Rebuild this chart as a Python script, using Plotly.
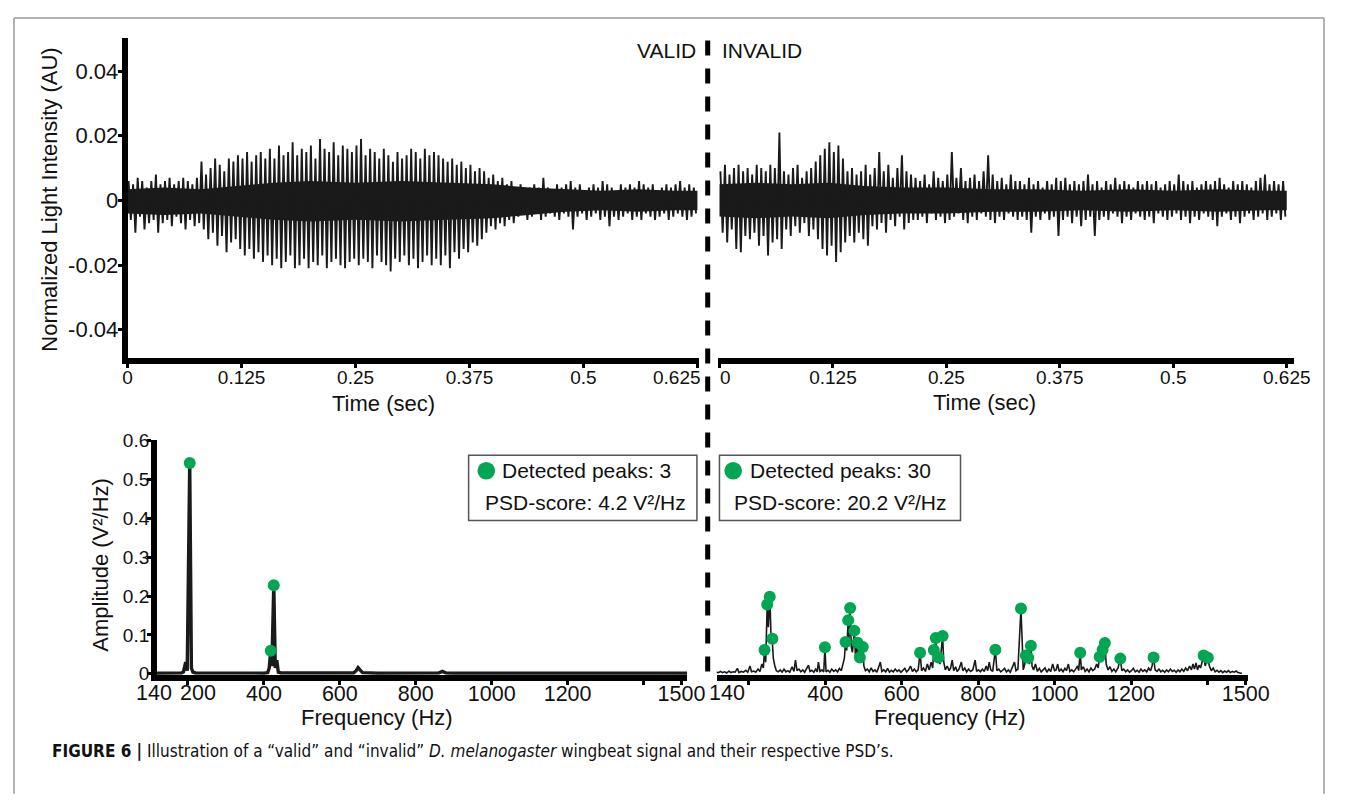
import plotly.graph_objects as go

# ---------------- data ----------------
# Wingbeat time signals: per-cycle spike maxima / minima (units of 0.001 AU)
valid_top = [6, 5, 7, 6, 4, 6, 8, 5, 6, 7, 5, 6, 7, 6, 5, 7,
             12, 8, 10, 13, 11, 9, 13, 12, 14,
             13, 15, 12, 14, 15, 13,
             16, 13, 17, 14, 15, 18, 14, 16, 15, 17, 13, 19, 16, 15, 18, 14, 17, 16, 15,
             17, 19, 14, 16, 15, 13, 16, 14, 12, 15, 13, 14, 16, 15, 13, 16, 14, 15,
             14, 13, 12, 13, 11, 12, 10, 11, 9, 10,
             9, 7, 8, 6, 7, 5, 6,
             4, 5, 3, 4, 5, 4, 7, 4, 3, 5, 4, 5, 6, 4, 5, 3, 4, 5, 4, 6,
             5, 4, 3, 5, 4, 5, 4, 6, 5, 4, 5, 3, 4, 5, 4, 5, 6, 4, 5, 4]
valid_bot = [-6, -10, -5, -9, -7, -6, -10, -7, -6, -8, -5, -7, -9, -6, -8, -7,
             -9, -12, -10, -14, -11, -16, -13, -12, -15,
             -17, -15, -18, -16, -19, -17,
             -20, -18, -21, -19, -17, -21, -20, -18, -21, -19, -20, -17, -21, -19, -18, -20, -21, -19, -18,
             -20, -18, -19, -21, -17, -19, -20, -22, -18, -19, -17, -20, -18, -21, -19, -17, -20, -18,
             -20, -17, -21, -16, -18, -15, -16, -13, -14, -12,
             -10, -8, -9, -7, -8, -6, -7,
             -5, -4, -6, -5, -4, -6, -5, -4, -5, -6, -4, -5, -9, -5, -4, -6, -5, -4, -6, -5,
             -8, -5, -6, -5, -4, -6, -5, -6, -4, -5, -6, -5, -4, -6, -5, -4, -5, -6, -5, -4]
invalid_top = [9, 11, 8, 10, 11, 9, 10, 8, 11, 10, 9, 11,
               10, 21,
               9, 8, 10, 11, 7, 9, 10,
               12, 14, 16, 18, 15, 17, 13,
               9, 10, 8, 9, 11,
               8, 10, 15, 9, 11, 7, 10, 14, 9, 8,
               7, 6, 8, 5, 9, 7, 6, 8, 15, 7, 10, 6, 7, 8, 6, 9, 14, 8, 6, 7, 5, 8, 6,
               6, 5, 7, 5, 6, 4, 6, 5, 7, 6, 7, 5, 6, 5, 6, 8, 5, 6, 4, 6,
               5, 7, 5, 6, 5, 4, 6, 5, 6, 5, 6, 4, 5, 6, 5, 8, 6, 5, 6, 4,
               5, 6, 5, 6, 7, 5, 4, 6, 5, 6, 5, 4, 6, 7, 8, 5, 6, 5, 6]
invalid_bot = [-10, -13, -9, -15, -16, -11, -12, -10, -14, -11, -17, -13,
               -12, -15,
               -9, -11, -8, -10, -7, -11, -9,
               -12, -15, -17, -14, -19, -16, -13,
               -11, -13, -10, -12, -14,
               -8, -9, -7, -10, -6, -8, -5, -9, -7, -6,
               -6, -5, -7, -4, -6, -5, -7, -6, -5, -4, -6, -7, -5, -6, -4, -5, -6, -7, -5, -6, -4, -5, -6,
               -5, -6, -10, -5, -6, -4, -6, -5, -11, -6, -5, -7, -5, -8, -6, -5, -11, -6, -5,
               -6, -4, -5, -7, -5, -6, -4, -5, -6, -5, -7, -4, -5, -6, -5, -4, -6, -5, -7, -5,
               -6, -4, -5, -6, -8, -5, -4, -6, -5, -7, -5, -4, -6, -5, -4, -6, -5, -4, -6, -5]
# dense (solid black) core of each signal: times and upper / lower edges (units of 0.001 AU)
valid_core_t = [0, 0.04, 0.08, 0.12, 0.16, 0.2, 0.25, 0.3, 0.35, 0.4, 0.44, 0.48, 0.52, 0.56, 0.6, 0.625]
valid_core_hi = [3.5, 4.0, 3.5, 4.5, 5.5, 6.0, 5.5, 6.0, 5.5, 5.0, 4.0, 3.5, 3.0, 3.5, 3.0, 3.0]
valid_core_lo = [-4.0, -4.5, -4.0, -5.0, -6.0, -6.5, -6.0, -6.5, -6.0, -5.5, -4.5, -3.5, -3.0, -3.5, -3.0, -3.0]
invalid_core_t = [0, 0.04, 0.08, 0.12, 0.16, 0.2, 0.25, 0.3, 0.35, 0.4, 0.45, 0.5, 0.55, 0.6, 0.625]
invalid_core_hi = [5.0, 5.5, 5.0, 5.5, 4.5, 4.0, 4.0, 3.5, 3.5, 3.0, 3.5, 3.0, 3.5, 3.0, 3.0]
invalid_core_lo = [-5.0, -5.5, -5.0, -5.5, -4.5, -4.0, -4.0, -3.5, -3.5, -3.0, -3.5, -3.0, -3.5, -3.0, -3.0]

# PSD of valid signal (Hz, units of 0.001 V^2/Hz)
valid_freq = [117, 140, 170, 183, 188, 194, 198, 204.6, 209, 213, 220, 260, 300, 350, 400,
              410, 414, 418, 421, 426, 430, 434, 438, 445, 500, 600, 636, 643, 648, 653, 660,
              700, 800, 860, 870, 880, 900, 1000, 1100, 1200, 1300, 1400, 1515]
valid_amp = [1.5, 1.5, 1.5, 2, 5, 30, 8, 542, 15, 4, 2, 1.5, 1.5, 1.5, 1.5,
             3, 15, 59, 20, 228, 15, 35, 4, 2, 1.5, 1.5, 2, 8, 16, 10, 3,
             1.5, 1.5, 2, 6, 2, 1.5, 1.5, 1.5, 1.5, 1.5, 1.5, 1.5]
valid_peak_f = [204.6, 426, 418]
valid_peak_a = [542, 228, 59]

# PSD of invalid signal
invalid_freq = [115, 120, 126, 131, 137, 142, 148, 153, 159, 164, 170, 174, 180, 186, 192, 197,
                203, 207, 213, 218, 224, 229, 234, 238, 241, 244, 248, 251, 255, 258, 261, 264,
                268, 272, 277, 282, 287, 292, 297, 302, 307, 313, 318, 322, 326, 331, 336, 341,
                346, 351, 356, 360, 365, 370, 375, 379, 382, 386, 391, 396, 399, 402, 407, 412,
                417, 422, 427, 432, 437, 442, 446, 450, 453, 456, 460, 462, 465, 468, 471, 476,
                479, 482, 484.6, 487, 490.5, 494, 498, 501, 505, 510, 515, 520, 525, 530, 535, 540,
                544, 548, 553, 558, 563, 568, 573, 578, 583, 588, 593, 598, 603, 608, 613, 618,
                623, 628, 633, 638, 643, 648, 652, 657, 662, 667, 672, 677, 681, 684, 686, 689,
                692, 696, 700, 703, 707, 710, 714, 719, 724, 728, 732, 736, 741, 745, 750, 756,
                760, 765, 770, 775, 780, 786, 792, 796, 801, 806, 811, 816, 821, 825, 829, 833,
                838, 845, 849, 854, 859, 864, 869, 874, 879, 884, 889, 895, 899, 904, 912, 918,
                922, 925, 928, 931, 934, 938, 941, 945, 950, 955, 960, 965, 970, 975, 980, 985,
                990, 995, 1000, 1004, 1008, 1012, 1017, 1022, 1027, 1031, 1036, 1040, 1045, 1050, 1055, 1060,
                1063, 1067, 1070, 1075, 1080, 1085, 1090, 1095, 1100, 1105, 1110, 1114, 1118, 1121, 1125.6, 1128,
                1131.5, 1135, 1140, 1145, 1150, 1155, 1160, 1166, 1172, 1176, 1181, 1186, 1191, 1196, 1201, 1206,
                1211, 1216, 1221, 1226, 1231, 1236, 1241, 1246, 1251, 1255, 1259, 1263, 1268, 1273, 1278, 1283,
                1288, 1293, 1298, 1303, 1308, 1313, 1318, 1323, 1328, 1333, 1338, 1343, 1348, 1353, 1358, 1362,
                1366, 1370, 1374, 1378, 1382, 1386, 1390, 1394, 1398, 1401, 1405, 1410, 1415, 1420, 1425, 1430,
                1435, 1440, 1445, 1450, 1455, 1460, 1465, 1470, 1475, 1480, 1485, 1490]
invalid_amp = [4, 3, 6, 3, 5, 2, 7, 3, 5, 4, 14, 3, 6, 4, 9, 4,
               20, 5, 7, 4, 12, 6, 25, 15, 61, 30, 178, 120, 198, 95, 90, 40,
               20, 8, 5, 10, 4, 12, 5, 8, 4, 18, 6, 35, 8, 12, 5, 10,
               4, 15, 22, 6, 9, 4, 12, 5, 30, 6, 10, 5, 68, 5, 9, 4,
               12, 6, 10, 5, 14, 8, 25, 40, 82, 60, 138, 90, 169, 70, 55, 111,
               45, 60, 80, 30, 42, 35, 69, 20, 8, 12, 5, 15, 6, 10, 4, 18,
               30, 6, 10, 5, 14, 4, 9, 5, 12, 6, 10, 4, 8, 14, 5, 10,
               20, 6, 12, 5, 10, 54, 8, 15, 6, 25, 10, 30, 15, 61, 40, 92,
               35, 42, 25, 50, 97, 30, 10, 20, 8, 15, 35, 8, 18, 6, 12, 30,
               8, 15, 5, 12, 6, 10, 35, 6, 10, 5, 12, 6, 20, 8, 30, 10,
               6, 62, 8, 12, 5, 9, 14, 5, 10, 4, 18, 30, 8, 12, 168, 10,
               25, 47, 30, 41, 25, 72, 20, 10, 25, 6, 14, 5, 10, 15, 4, 12,
               6, 25, 8, 10, 25, 6, 12, 5, 14, 8, 25, 6, 10, 5, 12, 20,
               8, 54, 10, 18, 6, 12, 5, 15, 8, 12, 25, 15, 44, 30, 62, 40,
               79, 25, 10, 18, 6, 12, 5, 15, 39, 8, 12, 5, 10, 4, 8, 14,
               5, 9, 4, 12, 6, 10, 5, 15, 8, 20, 42, 10, 6, 12, 5, 9,
               4, 10, 5, 12, 6, 9, 4, 10, 5, 12, 6, 15, 8, 20, 10, 25,
               12, 28, 10, 22, 15, 30, 47, 20, 30, 41, 20, 8, 15, 5, 9, 4,
               8, 3, 7, 4, 8, 3, 6, 4, 7, 3, 2, 1]
invalid_peak_f = [254.6, 248, 261.5, 241, 399, 465, 460, 476, 453, 484.6, 498, 490.5,
                  648, 689, 707, 684, 696, 845, 912, 938, 925, 931, 1067, 1131.5, 1125.6,
                  1118, 1172, 1259, 1390, 1401]
invalid_peak_a = [198, 178, 90, 61, 68, 169, 138, 111, 82, 80, 69, 42,
                  54, 92, 97, 61, 42, 62, 168, 72, 47, 41, 54, 79, 62,
                  44, 39, 42, 47, 41]

time_ticks = [0, 0.125, 0.25, 0.375, 0.5, 0.625]
time_labels_left = ["0", "0.125", "0.25", "0.375", "0.5", ""]
time_labels_right = ["", "0.125", "0.25", "0.375", "0.5", "0.625"]
amp_ticks = [-0.04, -0.02, 0, 0.02, 0.04]
amp_labels = ["-0.04", "-0.02", "0", "0.02", "0.04"]
freq_ticks = [200, 400, 600, 800, 1000, 1200, 1400, 1500]
freq_labels = ["", "400", "600", "800", "1000", "1200", "", "1500"]
psd_ticks = [0, 0.1, 0.2, 0.3, 0.4, 0.5, 0.6]
psd_labels = ["0", "0.1", "0.2", "0.3", "0.4", "0.5", "0.6"]

# ---------------- figure ----------------
# The page body keeps its default 8px margin, so the figure is 16px smaller than
# the window and every position below is given in window pixels.
OFF = 8
W, H = 1355 - 2 * OFF, 804 - 2 * OFF
FONT = "Liberation Sans, Arial, Helvetica, sans-serif"
GREEN = "#00A651"
INK = "#1a1a1a"


def px(x):
    return (x - OFF) / W


def py(y):
    return 1 - (y - OFF) / H


def zigzag(tops, bots, total=0.625):
    n = len(tops)
    per = total / n
    t, v = [], []
    for k in range(n):
        t += [(k + 0.2) * per, (k + 0.7) * per]
        v += [tops[k] * 1e-3, bots[k] * 1e-3]
    return t, v


def band(ts, hi, lo):
    xs = list(ts) + list(ts)[::-1]
    ys = [h * 1e-3 for h in hi] + [l * 1e-3 for l in lo][::-1]
    return xs, ys


fig = go.Figure()

# time signals
for xa, ya, tops, bots, ct, chi, clo in [
        ("x", "y", valid_top, valid_bot, valid_core_t, valid_core_hi, valid_core_lo),
        ("x2", "y2", invalid_top, invalid_bot, invalid_core_t, invalid_core_hi, invalid_core_lo)]:
    bx, by = band(ct, chi, clo)
    fig.add_trace(go.Scatter(x=bx, y=by, xaxis=xa, yaxis=ya, mode="lines", fill="toself",
                             fillcolor=INK, line=dict(width=0), hoverinfo="skip"))
    t, v = zigzag(tops, bots)
    fig.add_trace(go.Scatter(x=t, y=v, xaxis=xa, yaxis=ya, mode="lines",
                             line=dict(color=INK, width=1.9)))

# PSDs
fig.add_trace(go.Scatter(x=valid_freq, y=[a * 1e-3 for a in valid_amp], xaxis="x3", yaxis="y3",
                         mode="lines", line=dict(color=INK, width=3.4)))
fig.add_trace(go.Scatter(x=valid_peak_f, y=[a * 1e-3 for a in valid_peak_a], xaxis="x3", yaxis="y3",
                         mode="markers", marker=dict(color=GREEN, size=12), cliponaxis=False))
fig.add_trace(go.Scatter(x=invalid_freq, y=[a * 1e-3 for a in invalid_amp], xaxis="x4", yaxis="y4",
                         mode="lines", line=dict(color=INK, width=1.6)))
fig.add_trace(go.Scatter(x=invalid_peak_f, y=[a * 1e-3 for a in invalid_peak_a], xaxis="x4", yaxis="y4",
                         mode="markers", marker=dict(color=GREEN, size=12), cliponaxis=False))

axis_common = dict(showline=True, linewidth=6, linecolor="black", ticks="outside", ticklen=4,
                   tickwidth=2.5, tickcolor="black", showgrid=False, zeroline=False,
                   tickfont=dict(family=FONT, size=19, color="#111"))
top_dom = [py(357), py(30)]
bot_dom = [py(682), py(441)]

fig.update_layout(
    width=W, height=H, autosize=False, margin=dict(l=0, r=0, t=0, b=0, pad=0),
    paper_bgcolor="white", plot_bgcolor="white", showlegend=False,
    font=dict(family=FONT, color="#111"),
    xaxis=dict(axis_common, domain=[px(125), px(708)], range=[0, 0.6266], anchor="y",
               tickvals=time_ticks, ticktext=time_labels_left, ticklabelstandoff=-6),
    yaxis=dict(axis_common, domain=top_dom, range=[-0.0486, 0.0501], anchor="x",
               tickvals=amp_ticks, ticktext=amp_labels, ticklabelstandoff=-5,
               tickfont=dict(family=FONT, size=22, color="#111")),
    xaxis2=dict(axis_common, domain=[px(727), px(1315)], range=[-0.0022, 0.6326], anchor="y2",
                tickvals=time_ticks, ticktext=time_labels_right, ticklabelstandoff=-6),
    yaxis2=dict(domain=top_dom, range=[-0.0486, 0.0501], anchor="x2", visible=False),
    xaxis3=dict(axis_common, domain=[px(155), px(696)], range=[118.5, 1514.8], anchor="y3",
                tickvals=freq_ticks, ticktext=freq_labels, ticklabelstandoff=-10,
                tickfont=dict(family=FONT, size=21.5, color="#111")),
    yaxis3=dict(axis_common, domain=bot_dom, range=[-0.0025, 0.6025], anchor="x3",
                tickvals=psd_ticks, ticktext=psd_labels, ticklabelstandoff=-6),
    xaxis4=dict(axis_common, domain=[px(726), px(1268)], range=[115.4, 1505], anchor="y4",
                tickvals=freq_ticks, ticktext=freq_labels, ticklabelstandoff=-10,
                tickfont=dict(family=FONT, size=21.5, color="#111")),
    yaxis4=dict(domain=bot_dom, range=[-0.0025, 0.6025], anchor="x4", visible=False),
)

shapes = []
# outer frame
for x0, y0, x1, y1 in [(9, 9, 1346, 9), (9, 9, 9, 804), (1346, 9, 1346, 804)]:
    shapes.append(dict(type="line", xref="paper", yref="paper", x0=px(x0), y0=py(y0), x1=px(x1), y1=py(y1),
                       line=dict(color="#9a9a9a", width=1.5)))
# dashed divider
shapes.append(dict(type="line", xref="paper", yref="paper", x0=px(717), x1=px(717), y0=py(32), y1=py(681),
                   line=dict(color="black", width=5, dash="15px,13px")))
# legend boxes and dots
for x0, x1, cx in [(473, 706, 491), (729, 975, 743)]:
    shapes.append(dict(type="rect", xref="paper", yref="paper", x0=px(x0), x1=px(x1), y0=py(524), y1=py(457),
                       line=dict(color="#555", width=1.5), fillcolor="rgba(0,0,0,0)"))
    shapes.append(dict(type="circle", xref="paper", yref="paper", x0=px(cx - 9), x1=px(cx + 9),
                       y0=py(482), y1=py(464), line=dict(width=0), fillcolor=GREEN))
fig.update_layout(shapes=shapes)


def ann(text, x, y, size, xanchor="center", yanchor="middle", angle=0, family=FONT):
    return dict(text=text, x=px(x), y=py(y), xref="paper", yref="paper", showarrow=False,
                xanchor=xanchor, yanchor=yanchor, textangle=angle,
                font=dict(family=family, size=size, color="#111"))


annotations = [
    ann("Normalized Light Intensity (AU)", 45, 195, 22, angle=-90),
    ann("Time (sec)", 386, 404, 22),
    ann("Time (sec)", 999, 403, 22),
    ann("0.625", 686, 377, 19),
    ann("0", 735, 377, 19),
    ann("VALID", 707, 42, 21, xanchor="right"),
    ann("INVALID", 730, 42, 21, xanchor="left"),
    ann("Amplitude (V²/Hz)", 97, 569, 22, angle=-90),
    ann("Frequency (Hz)", 379, 726, 22),
    ann("Frequency (Hz)", 964, 726, 22),
    ann("140", 152, 701, 21.5),
    ann("200", 197, 701, 21.5),
    ann("140", 737, 701, 21.5),
    ann("Detected peaks: 3", 505, 473, 21, xanchor="left"),
    ann("PSD-score: 4.2 V²/Hz", 488, 506, 21, xanchor="left"),
    ann("Detected peaks: 30", 758, 473, 21, xanchor="left"),
    ann("PSD-score: 20.2 V²/Hz", 742, 506, 21, xanchor="left"),
    ann("<b>FIGURE 6 |</b> Illustration of a “valid” and “invalid” <i>D. melanogaster</i> wingbeat signal "
        "and their respective PSD’s.", 46, 760, 17, xanchor="left",
        family="DejaVu Sans Condensed, Liberation Sans Narrow, sans-serif"),
]
fig.update_layout(annotations=annotations)

fig.write_html("out.html", config={"displayModeBar": False, "responsive": False})
